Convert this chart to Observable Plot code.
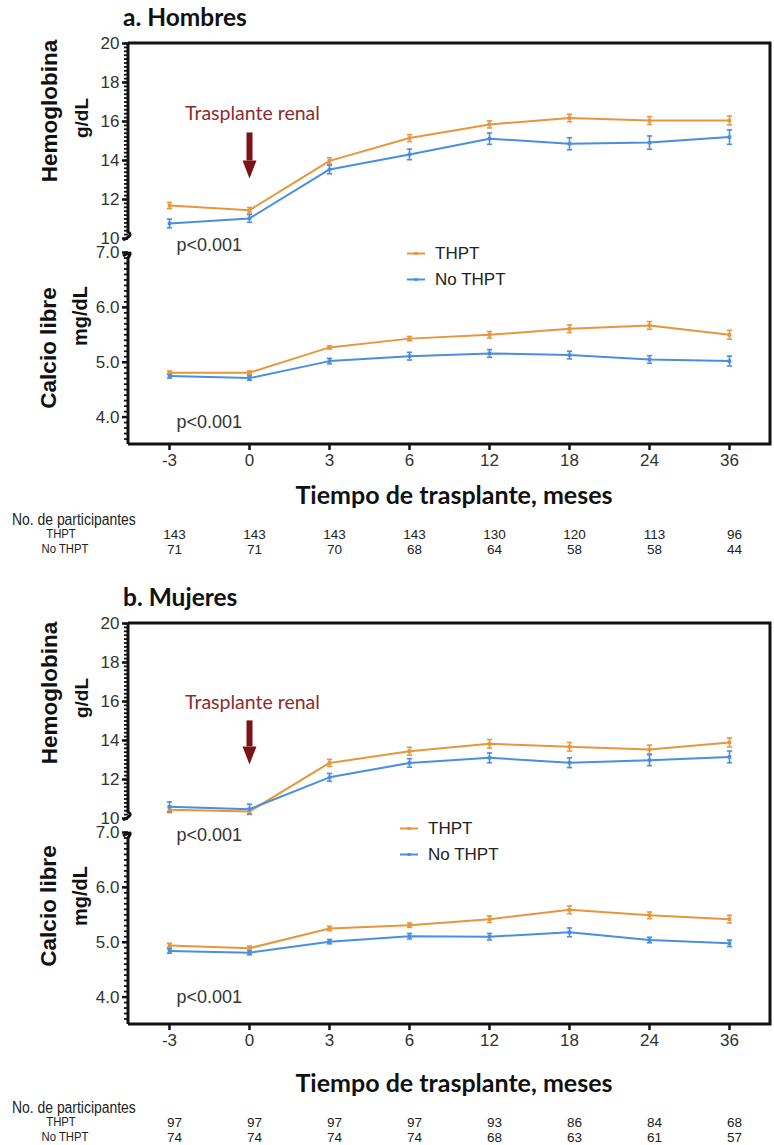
<!DOCTYPE html>
<html><head><meta charset="utf-8">
<script src="https://cdn.jsdelivr.net/npm/d3@7"></script>
<script src="https://cdn.jsdelivr.net/npm/@observablehq/plot@0.6"></script>
<style>
html,body{margin:0;padding:0;background:#fff;}
body{width:774px;height:1145px;position:relative;overflow:hidden;font-family:"Liberation Sans",Arial,sans-serif;}
.abs{position:absolute;white-space:nowrap;line-height:1;}
.ptitle{font-family:Lato,"Open Sans",sans-serif;font-weight:700;font-size:24.5px;color:#111;transform:translate(0,-50%);}
.ylab{font-weight:700;color:#111;transform:translate(-50%,-50%) rotate(-90deg);}
.xtitle{font-family:Lato,"Open Sans",sans-serif;font-weight:700;font-size:25px;color:#111;transform:translate(-50%,-50%);}
.npart{font-family:"Liberation Sans Narrow","Arial Narrow","Liberation Sans",sans-serif;font-size:16px;color:#222;transform:translate(0,-50%) scale(0.87,1);transform-origin:0 50%;}
.rowlab{font-family:"Liberation Sans Narrow","Arial Narrow","Liberation Sans",sans-serif;font-size:13px;color:#222;transform:translate(-50%,-50%) scale(0.87,1);}
.leg{font-size:17px;color:#222;transform:translate(0,-50%);display:flex;align-items:center;}
.panel{position:absolute;left:0;}
</style>
</head><body>
<script>
// ---------- data ----------
const months = [-3, 0, 3, 6, 12, 18, 24, 36];
const groups = ["THPT", "No THPT"];
const hbTicks = [10, 12, 14, 16, 18, 20];
const caTicks = [4.0, 5.0, 6.0, 7.0];

// a. Hombres
const menHbTHPT    = [11.69, 11.45, 13.98, 15.15, 15.85, 16.18, 16.05, 16.05];
const menHbTHPTErr = [0.16, 0.14, 0.16, 0.18, 0.18, 0.19, 0.20, 0.23];
const menHbNo      = [10.77, 11.03, 13.54, 14.31, 15.12, 14.86, 14.92, 15.20];
const menHbNoErr   = [0.22, 0.20, 0.22, 0.27, 0.29, 0.31, 0.34, 0.37];
const menCaTHPT    = [4.81, 4.81, 5.27, 5.43, 5.50, 5.61, 5.67, 5.50];
const menCaTHPTErr = [0.03, 0.03, 0.03, 0.04, 0.06, 0.07, 0.07, 0.08];
const menCaNo      = [4.75, 4.71, 5.02, 5.11, 5.16, 5.13, 5.05, 5.02];
const menCaNoErr   = [0.04, 0.04, 0.05, 0.07, 0.07, 0.07, 0.07, 0.09];
const menNTHPT     = [143, 143, 143, 143, 130, 120, 113, 96];
const menNNo       = [71, 71, 70, 68, 64, 58, 58, 44];

// b. Mujeres
const womenHbTHPT    = [10.45, 10.36, 12.85, 13.45, 13.83, 13.68, 13.54, 13.90];
const womenHbTHPTErr = [0.15, 0.15, 0.18, 0.20, 0.22, 0.22, 0.22, 0.23];
const womenHbNo      = [10.60, 10.48, 12.11, 12.85, 13.11, 12.86, 12.99, 13.16];
const womenHbNoErr   = [0.25, 0.25, 0.20, 0.22, 0.25, 0.25, 0.28, 0.30];
const womenCaTHPT    = [4.94, 4.89, 5.25, 5.31, 5.42, 5.59, 5.49, 5.42];
const womenCaTHPTErr = [0.04, 0.04, 0.04, 0.04, 0.06, 0.07, 0.06, 0.07];
const womenCaNo      = [4.84, 4.81, 5.01, 5.11, 5.10, 5.18, 5.04, 4.98];
const womenCaNoErr   = [0.04, 0.04, 0.04, 0.05, 0.06, 0.08, 0.05, 0.06];
const womenNTHPT     = [97, 97, 97, 97, 93, 86, 84, 68];
const womenNNo       = [74, 74, 74, 74, 68, 63, 61, 57];

// ---------- style ----------
const ORANGE = "#E8963C", BLUE = "#4A8FDF", ARROW = "#7A1418", TRCOL = "#8C2C2E";
const FONT = '"Liberation Sans", Arial, sans-serif';

function buildRows(hbT, hbTe, hbN, hbNe, caT, caTe, caN, caNe) {
  const out = [];
  months.forEach((m, i) => {
    out.push({m, grp: "THPT", s: "hb", v: hbT[i], e: hbTe[i]});
    out.push({m, grp: "No THPT", s: "hb", v: hbN[i], e: hbNe[i]});
    out.push({m, grp: "THPT", s: "ca", v: caT[i], e: caTe[i]});
    out.push({m, grp: "No THPT", s: "ca", v: caN[i], e: caNe[i]});
  });
  return out;
}

const minorTicks = d3.range(10, 20.001, 0.2).concat(d3.range(3.6, 7.001, 0.1)).map(v => +v.toFixed(2));
const cap = {draw(ctx) { ctx.moveTo(-2.6, 0); ctx.lineTo(2.6, 0); }};
const head = {draw(ctx) { ctx.moveTo(-7, -9); ctx.lineTo(7, -9); ctx.lineTo(0, 9); ctx.closePath(); }};

function panelPlot(data, ann) {
  const plot = Plot.plot({
    width: 774, height: 474,
    marginTop: 43, marginRight: 4, marginBottom: 30, marginLeft: 128,
    style: {fontFamily: FONT, fontSize: "17px", color: "#333", background: "transparent", overflow: "visible"},
    x: {type: "point", domain: months, padding: 0.5},
    y: {type: "linear", domain: [3.5, 7, 10, 20], range: [444, 252, 238, 43]},
    color: {domain: groups, range: [ORANGE, BLUE]},
    marks: [
      Plot.axisX({ticks: months, tickSize: 6, tickPadding: 3, stroke: "#111", strokeWidth: 2.5, fill: "#333", label: null, fontSize: 17}),
      Plot.axisY({ticks: minorTicks, tickSize: 4, stroke: "#111", strokeWidth: 1.8, tickFormat: () => "", label: null}),
      Plot.axisY({ticks: hbTicks.concat(caTicks), tickSize: 6, tickPadding: 3, stroke: "#111", strokeWidth: 2.5, fill: "#333", label: null, fontSize: 17,
        tickFormat: d => d >= 10 ? String(d) : d.toFixed(1)}),
      Plot.ruleX(data, {x: "m", y1: d => d.v - d.e, y2: d => d.v + d.e, stroke: "grp", strokeWidth: 1.6}),
      Plot.dot(data, {x: "m", y: d => d.v - d.e, symbol: cap, stroke: "grp", fill: "none", strokeWidth: 1.6}),
      Plot.dot(data, {x: "m", y: d => d.v + d.e, symbol: cap, stroke: "grp", fill: "none", strokeWidth: 1.6}),
      Plot.line(data, {x: "m", y: "v", z: d => d.s + d.grp, stroke: "grp", strokeWidth: 2}),
      Plot.dot(data, {x: "m", y: "v", symbol: "square", r: 2, fill: "grp", stroke: "none"}),
      Plot.text([ann.tr], {x: "m", y: "v", text: () => "Trasplante renal", fill: TRCOL, fontFamily: "Lato, 'Open Sans', sans-serif", fontSize: 19.5, dx: 3}),
      Plot.link([ann.arrow], {x1: "m", x2: "m", y1: "y1", y2: "y2", stroke: ARROW, strokeWidth: 6}),
      Plot.dot([ann.arrow], {x: "m", y: "yh", symbol: head, fill: ARROW, stroke: "none"}),
      Plot.text(ann.p, {x: "m", y: "v", text: () => "p<0.001", textAnchor: "start", dx: 7, fontSize: 18, fill: "#333"})
    ]
  });
  // frame with axis break, positioned through the plot's own scales
  const ys = plot.scale("y"), xs = plot.scale("x");
  const Y = v => ys.apply(v);
  const [x0, x1] = xs.range;
  const g = d3.select(plot).append("g").attr("fill", "none").attr("stroke", "#111").attr("stroke-width", 3);
  g.append("path").attr("d", `M${x0},${Y(20)}H${x1}V${Y(3.5)}H${x0}`);
  g.append("path").attr("d", `M${x0},${Y(20)}V${Y(10) - 6}Q${x0 + 6},${Y(10) - 3} ${x0 - 5},${Y(10) + 2}`);
  g.append("path").attr("d", `M${x0 - 5},${Y(7) + 4}Q${x0 + 6},${Y(7) - 3} ${x0},${Y(7) + 6}V${Y(3.5)}`);
  return plot;
}

function countsPlot(nT, nN) {
  const rows = [];
  months.forEach((m, i) => { rows.push({m, grp: "THPT", n: nT[i]}); rows.push({m, grp: "No THPT", n: nN[i]}); });
  return Plot.plot({
    width: 774, height: 32, marginTop: 0, marginBottom: 0, marginLeft: 128, marginRight: 4,
    style: {fontFamily: '"Liberation Sans Narrow", "Arial Narrow", "Liberation Sans", sans-serif', fontSize: "13.5px", color: "#222", background: "transparent", overflow: "visible"},
    x: {type: "point", domain: months, padding: 0.5, axis: null},
    y: {type: "point", domain: groups, range: [8, 23], padding: 0, axis: null},
    marks: [Plot.text(rows, {x: "m", y: "grp", text: d => String(d.n), dx: 5, fontSize: 13.5, fill: "#222"})]
  });
}

function el(cls, text, left, top, extra) {
  const d = document.createElement("div");
  d.className = "abs " + cls;
  d.textContent = text;
  d.style.left = left + "px";
  d.style.top = top + "px";
  if (extra) Object.assign(d.style, extra);
  document.body.appendChild(d);
  return d;
}

function legend(left, top, label, color) {
  const d = document.createElement("div");
  d.className = "abs leg";
  d.style.left = left + "px";
  d.style.top = top + "px";
  d.innerHTML = `<svg width="28" height="10"><line x1="0" x2="18" y1="5" y2="5" stroke="${color}" stroke-width="2"/><rect x="7.5" y="3.5" width="3" height="3" fill="${color}"/></svg><span>${label}</span>`;
  document.body.appendChild(d);
}

function panel(offset, cfg) {
  const holder = document.createElement("div");
  holder.className = "panel";
  holder.style.top = offset + "px";
  holder.appendChild(panelPlot(cfg.data, cfg.ann));
  document.body.appendChild(holder);

  el("ptitle", cfg.title, 123, offset + 17);
  el("ylab", "Hemoglobina", 50, offset + cfg.hbLabY, {fontSize: "22.5px"});
  el("ylab", "g/dL", 81, offset + 118, {fontSize: "19px"});
  el("ylab", "Calcio libre", 49, offset + cfg.caLabY, {fontSize: "22.5px"});
  el("ylab", "mg/dL", 80, offset + 316, {fontSize: "20px"});
  legend(cfg.legX, offset + cfg.legY, "THPT", ORANGE);
  legend(cfg.legX, offset + cfg.legY + 26, "No THPT", BLUE);
  el("xtitle", "Tiempo de trasplante, meses", 454, offset + cfg.xtY);
  el("npart", "No. de participantes", 12, offset + cfg.npY);
  el("rowlab", "THPT", 61, offset + cfg.npY + 13);
  el("rowlab", "No THPT", 65, offset + cfg.npY + 28);

  const c = document.createElement("div");
  c.className = "panel";
  c.style.top = (offset + cfg.npY + 14 - 8) + "px";
  c.appendChild(countsPlot(cfg.nT, cfg.nN));
  document.body.appendChild(c);
}

panel(0, {
  title: "a. Hombres",
  data: buildRows(menHbTHPT, menHbTHPTErr, menHbNo, menHbNoErr, menCaTHPT, menCaTHPTErr, menCaNo, menCaNoErr),
  ann: {tr: {m: 0, v: 16.41}, arrow: {m: 0, y1: 15.44, y2: 14.0, yh: 13.54}, p: [{m: -3, v: 8.5}, {m: -3, v: 3.91}]},
  hbLabY: 111, caLabY: 348, legX: 407, legY: 253, xtY: 494, npY: 520,
  nT: menNTHPT, nN: menNNo
});

panel(580, {
  title: "b. Mujeres",
  data: buildRows(womenHbTHPT, womenHbTHPTErr, womenHbNo, womenHbNoErr, womenCaTHPT, womenCaTHPTErr, womenCaNo, womenCaNoErr),
  ann: {tr: {m: 0, v: 15.95}, arrow: {m: 0, y1: 15.03, y2: 13.7, yh: 13.23}, p: [{m: -3, v: 6.95}, {m: -3, v: 4.0}]},
  hbLabY: 113, caLabY: 326, legX: 400, legY: 248, xtY: 502, npY: 528,
  nT: womenNTHPT, nN: womenNNo
});
</script>
</body></html>
